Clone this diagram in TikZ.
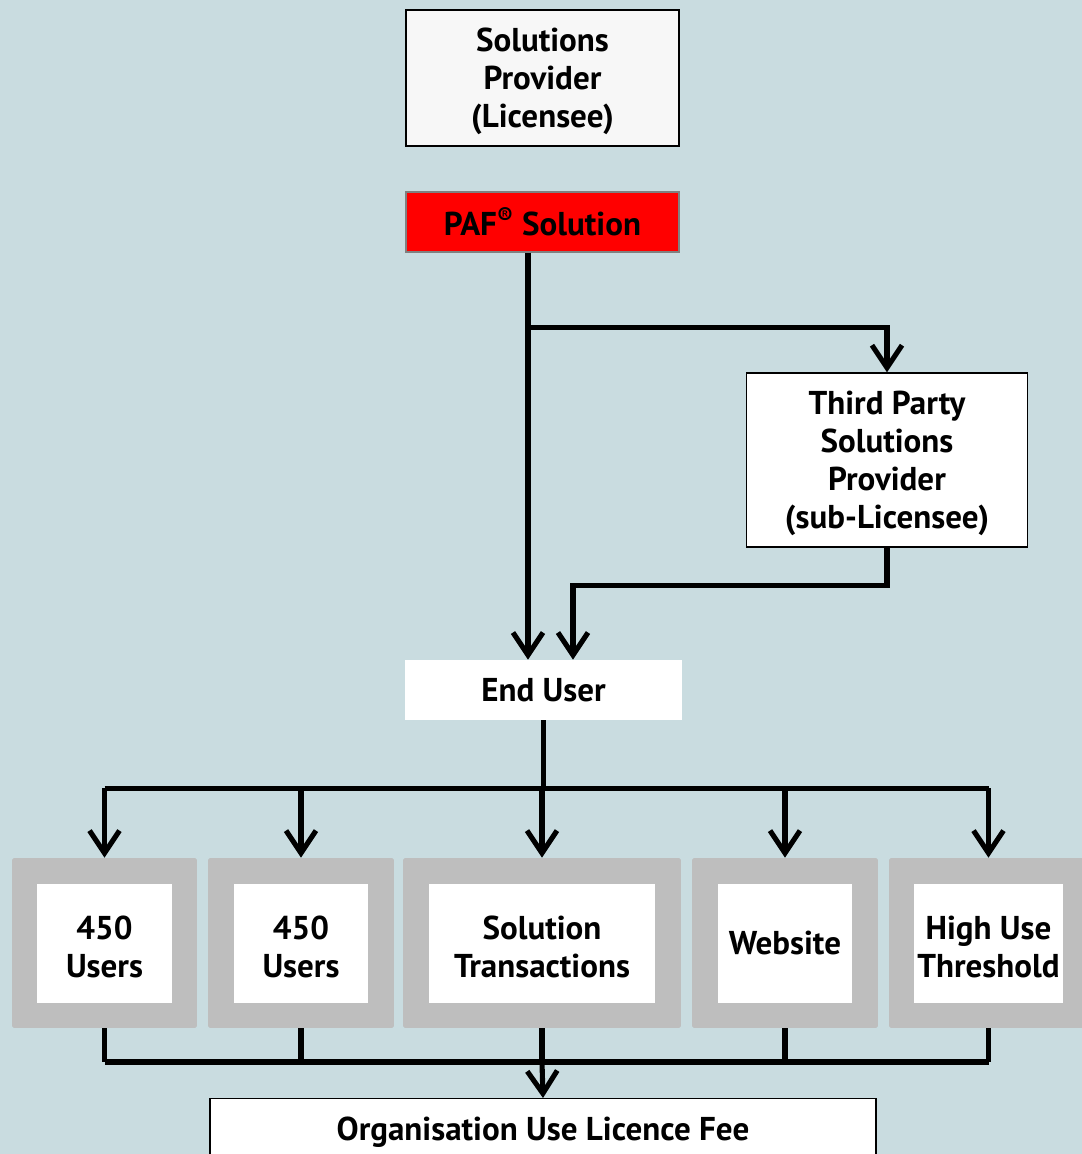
\documentclass[tikz,border=0pt]{standalone}
\usepackage{fontspec}
\setmainfont{PT Sans}
\usepackage{xcolor}
\usetikzlibrary{arrows.meta,calc,positioning}
\definecolor{bgblue}{RGB}{201,220,224}
\definecolor{boxgrey}{RGB}{190,190,190}
\definecolor{offwhite}{RGB}{247,247,247}
\tikzset{font={\fontsize{18.8pt}{21.6pt}\selectfont\bfseries}}
\newcommand\topgap{\rule{0pt}{17.5pt}}
\tikzset{
  plainbox/.style={fill=white,align=center,inner sep=0pt},
  linebox/.style={plainbox,draw=black,line width=0.8pt},
  greybox/.style={fill=boxgrey,rounded corners=1pt,inner sep=0pt,minimum height=3.4cm},
  innerbox/.style={fill=white,align=center,inner sep=0pt,minimum height=2.38cm},
  conn/.style={line width=2.9pt},
  arr/.style={conn,-{Straight Barb[length=4.5mm,width=6mm]}}
}

\begin{document}
\begin{tikzpicture}[x=0.02cm,y=-0.02cm]

%background
\clip (0,0) rectangle (1082,1154);
\fill[bgblue] (0,0) rectangle (1082,1154);

%top boxes
\node[linebox,fill=offwhite,minimum width=5.46cm,minimum height=2.72cm] at (542.5,78) (sp) {\topgap Solutions\\Provider\\(Licensee)};
\node[plainbox,fill=red,draw=gray,line width=0.8pt,minimum width=5.46cm,minimum height=1.2cm] at (542.5,222) (paf) {PAF\textsuperscript{\textregistered} Solution};
\node[linebox,minimum width=5.62cm,minimum height=3.48cm] at (887,460) (tp) {\topgap Third Party\\Solutions\\Provider\\(sub-Licensee)};
\node[plainbox,minimum width=5.54cm,minimum height=1.2cm] at (543.5,690) (eu) {End User};

%licence options
\node[greybox,minimum width=3.7cm] at (104.5,943) (g1) {};
\node[greybox,minimum width=3.72cm] at (301,943) (g2) {};
\node[greybox,minimum width=5.56cm] at (542,943) (g3) {};
\node[greybox,minimum width=3.72cm] at (785,943) (g4) {};
\node[greybox,minimum width=3.98cm] at (988.5,943) (g5) {};

\node[innerbox,minimum width=2.7cm] at (g1) (u1) {\topgap 450\\Users};
\node[innerbox,minimum width=2.7cm] at (g2) (u2) {\topgap 450\\Users};
\node[innerbox,minimum width=4.54cm] at (g3) (st) {\topgap Solution\\Transactions};
\node[innerbox,minimum width=2.68cm] at (g4) (ws) {Website};
\node[innerbox,minimum width=2.98cm] at (g5) (hu) {\topgap High Use\\Threshold};

\node[linebox,minimum width=13.32cm,minimum height=2.4cm,anchor=north] at (543,1098) (org) {};
\node[] at (543,1132) (orgtext) {Organisation Use Licence Fee};

%connectors from the solution
\coordinate (pafout) at ($(paf.south)+(-14.5,0)$);
\draw[arr] (pafout) -- (pafout |- eu.north);
\draw[arr] ($(pafout)+(0,75)$) -| (tp.north);
\draw[arr] (tp.south) -- ++(0,38) -| ($(eu.north)+(29.5,0)$);

%connectors to the options
\draw[conn] (eu.south) -- ++(0,68) coordinate (hub);
\draw[conn] (g1.north |- hub) -- (g5.north |- hub);
\foreach \g in {g1,g2,g3,g4,g5}
  \draw[arr] (\g.north |- hub) -- (\g.north);

%connectors to the fee
\coordinate (bus) at (0,1062);
\foreach \g in {g1,g2,g3,g4,g5}
  \draw[conn] (\g.south) -- (\g.south |- bus);
\draw[conn] (g1.south |- bus) -- (g5.south |- bus);
\draw[arr] (g3.south |- bus) -- (org.north);

\end{tikzpicture}
\end{document}
